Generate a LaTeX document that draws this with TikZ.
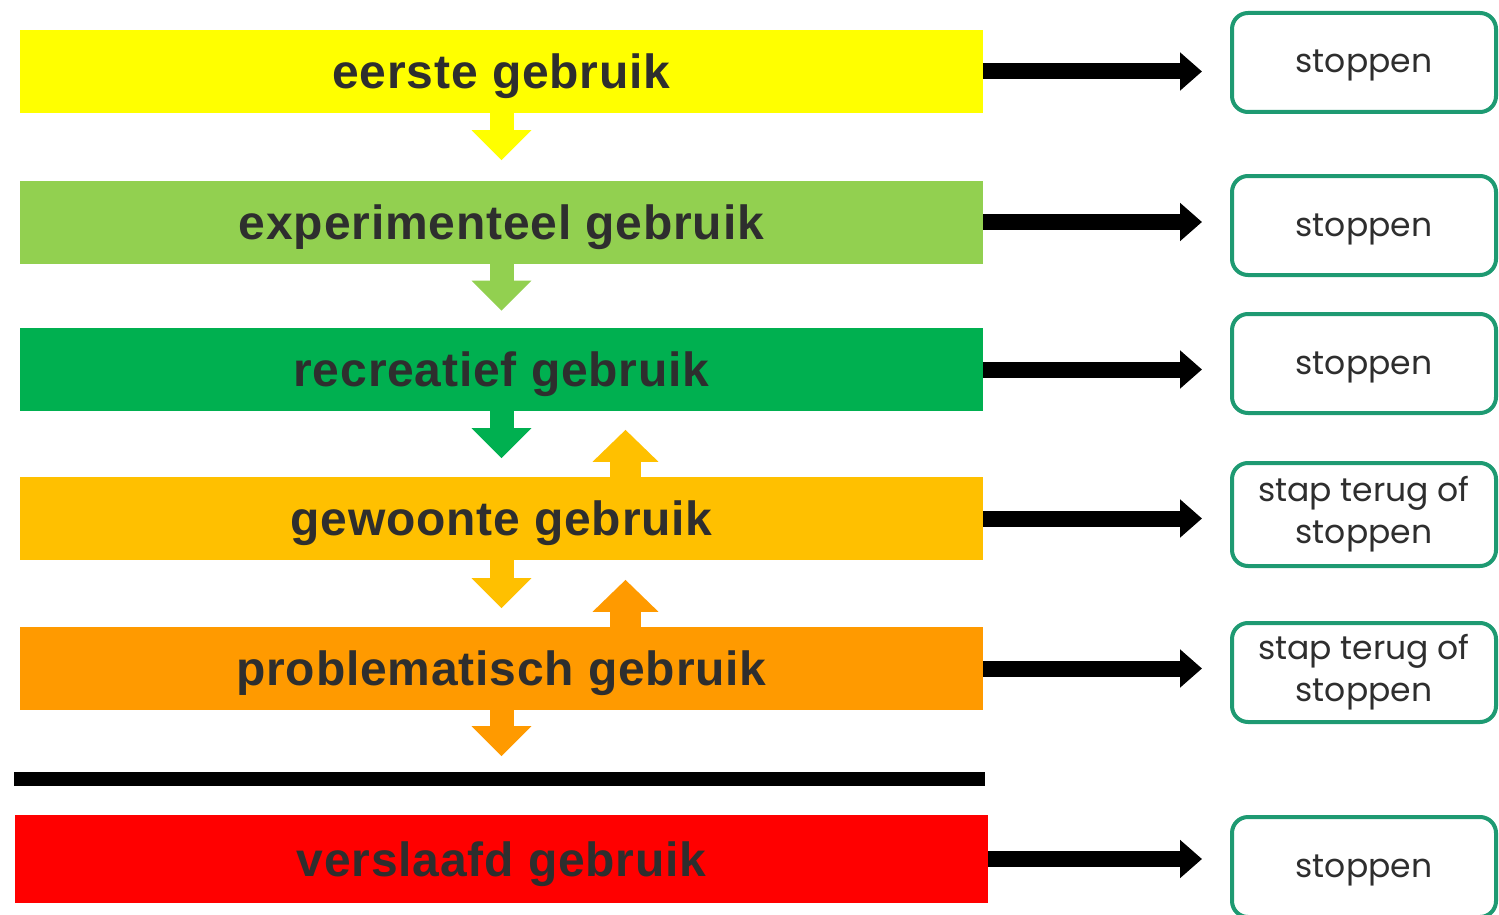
\documentclass[tikz,border=0pt]{standalone}
\usepackage{fontspec}
\setmainfont{Liberation Sans}
\newfontfamily\barfont[LetterSpace=1.7]{Liberation Sans}
\newfontfamily\boxfont{Poppins}
\usetikzlibrary{arrows.meta}
\definecolor{cYel}{HTML}{FFFF00}
\definecolor{cLgr}{HTML}{92D050}
\definecolor{cGrn}{HTML}{00B050}
\definecolor{cAmb}{HTML}{FFC000}
\definecolor{cOra}{HTML}{FF9A00}
\definecolor{cRed}{HTML}{FF0000}
\definecolor{cTeal}{HTML}{1E9A72}
\definecolor{cTxt}{HTML}{2E2E2E}
\tikzset{
  bar/.style={rectangle, inner sep=0pt, minimum width=963pt, minimum height=83pt,
    font=\barfont\fontsize{48}{50}\selectfont\bfseries, text=cTxt,
    text height=34pt, text depth=0pt},
  endbox/.style={rectangle, rounded corners=16pt, draw=cTeal, line width=4pt,
    minimum width=264pt, minimum height=99pt, inner sep=0pt, align=center,
    font=\boxfont\fontsize{33}{42}\selectfont, text=cTxt},
  onebox/.style={endbox, text height=21pt, text depth=0pt},
  blockdown/.style={line width=24pt, draw=#1, -{Triangle[width=58pt,length=30pt,fill=#1,color=#1]}},
  blockup/.style={line width=31pt, draw=#1, -{Triangle[width=64pt,length=32pt,fill=#1,color=#1]}},
  rarr/.style={line width=16pt, -{Triangle[width=37pt,length=22pt]}, shorten >=28pt},
}
\begin{document}
\begin{tikzpicture}[x=1pt,y=-1pt]
\useasboundingbox (0,0) rectangle (1499,915);
% bars
\node[bar, fill=cYel] (b1) at (501.5,71.5) {eerste gebruik};
\node[bar, fill=cLgr] (b2) at (501.5,222) {experimenteel gebruik};
\node[bar, fill=cGrn] (b3) at (501.5,369.5) {recreatief gebruik};
\node[bar, fill=cAmb] (b4) at (501.5,518.5) {gewoonte gebruik};
\node[bar, fill=cOra] (b5) at (501.5,668.5) {problematisch gebruik};
\node[rectangle, fill=black, inner sep=0pt, minimum width=971pt, minimum height=14pt] (sep) at (499.5,779) {};
\node[bar, fill=cRed, minimum width=973pt, minimum height=88pt] (b6) at (501.5,859) {verslaafd gebruik};
% end boxes
\node[onebox] (s1) at (1364,62.5) {stoppen};
\node[onebox] (s2) at (1364,225.5) {stoppen};
\node[onebox] (s3) at (1364,363.5) {stoppen};
\node[endbox, minimum height=103pt] (s4) at (1364,514.5) {stap terug of\\stoppen};
\node[endbox] (s5) at (1364,672.5) {stap terug of\\stoppen};
\node[onebox, minimum height=100pt] (s6) at (1364,867) {stoppen};
% down arrows
\draw[blockdown=cYel] (b1.south) -- ++(0,47);
\draw[blockdown=cLgr] (b2.south) -- ++(0,47);
\draw[blockdown=cGrn] (b3.south) -- ++(0,47);
\draw[blockdown=cAmb] (b4.south) -- ++(0,48);
\draw[blockdown=cOra] (b5.south) -- ++(0,46);
% up arrows
\draw[blockup=cAmb] ([xshift=124pt]b4.north) -- ++(0,-47);
\draw[blockup=cOra] ([xshift=124pt]b5.north) -- ++(0,-47);
% right arrows
\draw[rarr] (b1.east) -- (b1.east -| s1.west);
\draw[rarr] (b2.east) -- (b2.east -| s2.west);
\draw[rarr] (b3.east) -- (b3.east -| s3.west);
\draw[rarr] (b4.east) -- (b4.east -| s4.west);
\draw[rarr] (b5.east) -- (b5.east -| s5.west);
\draw[rarr] (b6.east) -- (b6.east -| s6.west);
\end{tikzpicture}
\end{document}
